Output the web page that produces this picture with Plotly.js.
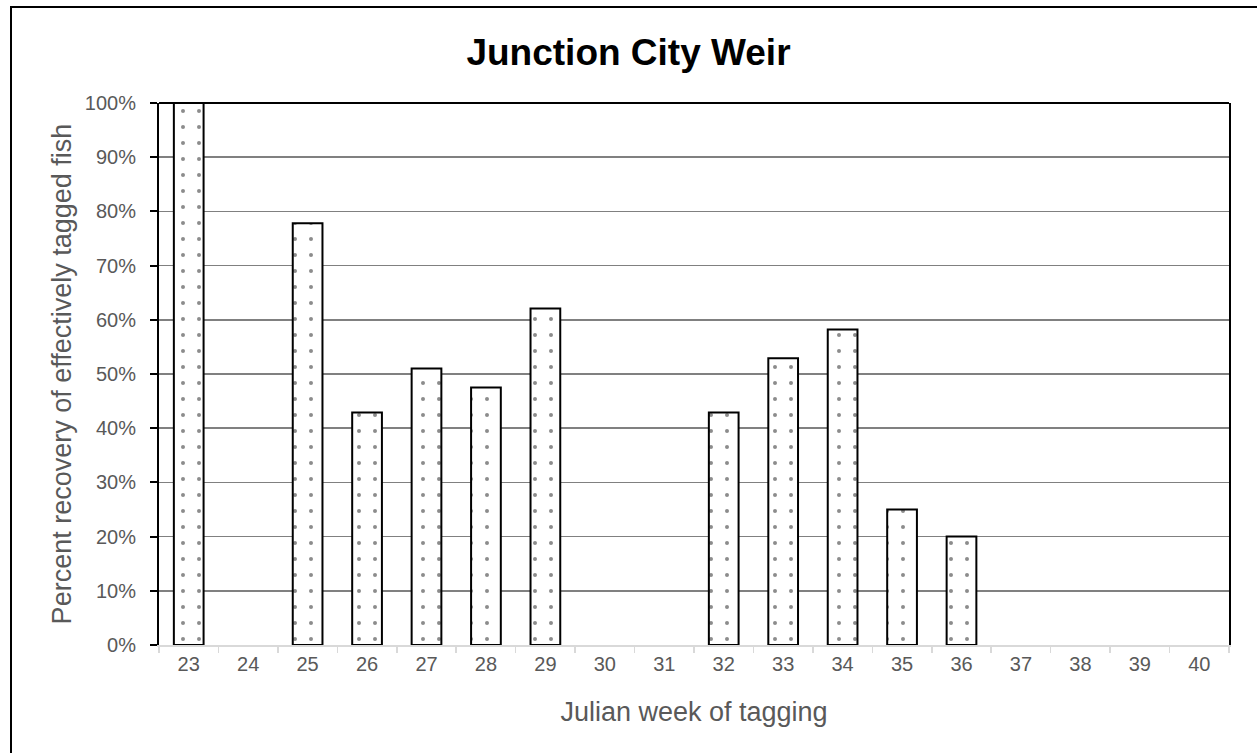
<!DOCTYPE html>
<html>
<head>
<meta charset="utf-8">
<script src="https://cdn.plot.ly/plotly-3.0.1.min.js"></script>
<style>
html,body{margin:0;padding:0;background:#fff;}
#chart{width:1257px;height:753px;}
</style>
</head>
<body>
<div id="chart"></div>
<script>
const weeks = ['23','24','25','26','27','28','29','30','31','32','33','34','35','36','37','38','39','40'];
const recovery = [100, null, 77.8, 42.9, 51.0, 47.5, 62.1, null, null, 42.9, 52.9, 58.2, 25.0, 20.0, null, null, null, null];
const yTicks = [0,10,20,30,40,50,60,70,80,90,100];
const yTickText = yTicks.map(v => v + '%');

const FONT = 'Liberation Sans, Arial, sans-serif';

const trace = {
  type: 'bar',
  x: weeks,
  y: recovery,
  marker: {
    color: '#ffffff',
    line: {color: '#000000', width: 2},
    pattern: {shape: '.', size: 16, solidity: 0.05, fgcolor: '#1a1a1a', bgcolor: '#ffffff', fillmode: 'overlay'}
  },
  hoverinfo: 'x+y'
};

const layout = {
  width: 1257,
  height: 753,
  margin: {l: 159, r: 28, t: 103, b: 108},
  paper_bgcolor: '#ffffff',
  plot_bgcolor: '#ffffff',
  bargap: 0.5,
  showlegend: false,
  title: {
    text: '<b>Junction City Weir</b>',
    font: {family: FONT, size: 37, color: '#000000'},
    x: 0.5, xref: 'container', xanchor: 'center',
    y: 1 - 52/753, yref: 'container', yanchor: 'middle'
  },
  xaxis: {
    type: 'category',
    showline: true, linecolor: '#d9d9d9', linewidth: 2,
    ticks: 'outside', tickson: 'boundaries', tickcolor: '#d9d9d9', ticklen: 6, tickwidth: 1.5,
    showgrid: false,
    tickfont: {family: FONT, size: 20, color: '#595959'},
    title: {text: 'Julian week of tagging', font: {family: FONT, size: 27, color: '#595959'}, standoff: 28},
    fixedrange: true
  },
  yaxis: {
    range: [0, 100],
    tickvals: yTicks, ticktext: yTickText,
    showline: true, linecolor: '#000000', linewidth: 2, mirror: true,
    ticks: 'outside', tickcolor: '#000000', ticklen: 7, tickwidth: 2,
    ticklabelstandoff: 10,
    showgrid: true, gridcolor: '#808080', gridwidth: 1.5,
    zeroline: false,
    tickfont: {family: FONT, size: 20, color: '#595959'},
    title: {text: 'Percent recovery of effectively tagged fish', font: {family: FONT, size: 27, color: '#595959'}, standoff: 5},
    fixedrange: true
  },
  shapes: [
    {type: 'line', xref: 'paper', yref: 'paper', x0: 0, x1: 1, y0: 1, y1: 1, line: {color: '#000000', width: 2}},
    {type: 'rect', xref: 'paper', yref: 'paper', x0: (11-159)/1070, x1: 1.2, y0: -0.5, y1: 1 + (103-7)/542, line: {color: '#000000', width: 2}, fillcolor: 'rgba(0,0,0,0)', layer: 'above'}
  ]
};

Plotly.newPlot('chart', [trace], layout, {displayModeBar: false, staticPlot: true});
</script>
</body>
</html>
